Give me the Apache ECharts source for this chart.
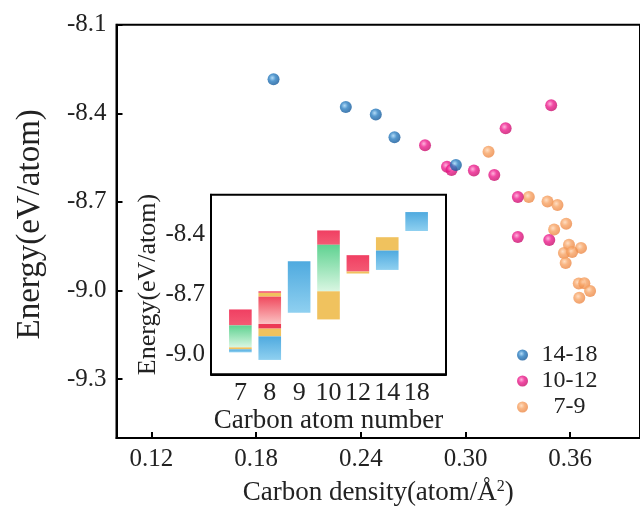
<!DOCTYPE html>
<html>
<head>
<meta charset="utf-8">
<script src="https://cdn.jsdelivr.net/npm/echarts@6/dist/echarts.min.js"></script>
<style>html,body{margin:0;padding:0;background:#fff}#c{width:640px;height:516px}</style>
</head>
<body>
<div id="c"></div>
<script>
// ---- main scatter data [carbon density, energy] ----
const pts14_18 = [[0.1900,-8.285],[0.2314,-8.379],[0.2486,-8.404],[0.2593,-8.481],[0.2945,-8.575]];
const pts10_12 = [[0.3491,-8.373],[0.3230,-8.451],[0.2768,-8.508],[0.2894,-8.581],[0.2920,-8.592],[0.3048,-8.594],[0.3165,-8.609],[0.3300,-8.684],[0.3300,-8.819],[0.3480,-8.829]];
const pts7_9 = [[0.3132,-8.530],[0.3363,-8.684],[0.3470,-8.699],[0.3527,-8.711],[0.3577,-8.774],[0.3508,-8.794],[0.3593,-8.845],[0.3662,-8.856],[0.3564,-8.873],[0.3611,-8.870],[0.3574,-8.907],[0.3649,-8.977],[0.3681,-8.976],[0.3714,-9.002],[0.3652,-9.025]];
const seriesNames = ['14-18','10-12','7-9'];
const mainXTicks = [0.12,0.18,0.24,0.30,0.36];
const mainYTicks = [-9.3,-9.0,-8.7,-8.4,-8.1];

// ---- inset data: carbon atom number, energy ranges ----
const insetCats = ['7','8','9','10','12','14','18'];
const insetYTicks = [-9.0,-8.7,-8.4];
// [category index (1-based), low energy, high energy, colour key]
const insetSegments = [
  [1,-8.855,-8.775,'red'],[1,-8.965,-8.855,'green'],[1,-8.975,-8.965,'yellow'],[1,-8.990,-8.975,'blue'],
  [2,-8.692,-8.684,'red'],[2,-8.711,-8.692,'yellow'],[2,-8.848,-8.711,'redFade'],[2,-8.871,-8.848,'darkRed'],[2,-8.910,-8.871,'yellow'],[2,-9.028,-8.910,'blue'],
  [3,-8.792,-8.533,'blue'],
  [4,-8.451,-8.379,'red'],[4,-8.684,-8.451,'green'],[4,-8.825,-8.684,'yellow'],
  [5,-8.585,-8.503,'red'],[5,-8.595,-8.585,'yellow'],
  [6,-8.480,-8.413,'yellow'],[6,-8.577,-8.480,'blue'],
  [7,-8.382,-8.287,'blue']
];

const FONT = 'Liberation Serif';
function lin(a,b){return {type:'linear',x:0,y:0,x2:0,y2:1,colorStops:[{offset:0,color:a},{offset:1,color:b}]};}
const segFill = {
  red: lin('#f03f62','#f45a74'),
  redFade: lin('#f04a5e','#fbc3c3'),
  darkRed: '#ec3b55',
  green: lin('#5fd291','#d9f6e2'),
  yellow: '#f0c25e',
  blue: lin('#4faadf','#8fd0f0')
};
function sphere(c0,c1,c2){return {type:'radial',x:0.4,y:0.38,r:0.62,colorStops:[{offset:0,color:c0},{offset:0.45,color:c1},{offset:1,color:c2}]};}
const colors = {
  '14-18': sphere('#9fd2f5','#2b7fc2','#14599a'),
  '10-12': sphere('#ff9fd2','#ee1d8e','#c80e6c'),
  '7-9': sphere('#ffd6b4','#f7a364','#ec8846')
};

const chart = echarts.init(document.getElementById('c'), null, {renderer:'canvas'});
const axisTextBase = {fontFamily:FONT, color:'#222'};
const blackLine = {lineStyle:{color:'#000',width:2}};

const option = {
  animation:false,
  backgroundColor:'#fff',
  grid:[
    {left:116.5, top:24.7, width:532.5, height:413.3, show:true, borderColor:'#000', borderWidth:2, backgroundColor:'transparent', z:0},
    {left:211, top:194.7, width:235, height:179.6, show:true, borderColor:'#000', borderWidth:2, backgroundColor:'#fff', z:5}
  ],
  xAxis:[
    {type:'value', gridIndex:0, min:0.10, max:0.40, splitLine:{show:false},
     axisLine:blackLine,
     axisTick:{inside:true, length:6, lineStyle:{color:'#000',width:2}, customValues:mainXTicks},
     axisLabel:Object.assign({customValues:mainXTicks, fontSize:25, margin:9, formatter:v=>v.toFixed(2)}, axisTextBase),
     name:'Carbon density(atom/Å{sup|2})', nameLocation:'middle', nameGap:41,
     nameTextStyle:Object.assign({fontSize:27, rich:{sup:{fontSize:16, fontFamily:FONT, color:'#222', verticalAlign:'top', padding:[0,0,12,0]}}}, axisTextBase)
    },
    {type:'value', gridIndex:1, min:0, max:8, splitLine:{show:false},
     axisLine:blackLine,
     axisTick:{show:false},
     axisLabel:Object.assign({customValues:[1,2,3,4,5,6,7], fontSize:26, margin:6, formatter:v=>insetCats[Math.round(v)-1]}, axisTextBase),
     name:'Carbon atom number', nameLocation:'middle', nameGap:32,
     nameTextStyle:Object.assign({fontSize:27}, axisTextBase)
    }
  ],
  yAxis:[
    {type:'value', gridIndex:0, min:-9.5, max:-8.1, splitLine:{show:false},
     axisLine:blackLine,
     axisTick:{inside:true, length:6, lineStyle:{color:'#000',width:2}, customValues:mainYTicks},
     axisLabel:Object.assign({customValues:mainYTicks, fontSize:25, margin:10, formatter:v=>v.toFixed(1)}, axisTextBase),
     name:'Energy(eV/atom)', nameLocation:'middle', nameGap:70,
     nameTextStyle:Object.assign({fontSize:33, padding:[0,0,0,14]}, axisTextBase)
    },
    {type:'value', gridIndex:1, min:-9.1, max:-8.2, splitLine:{show:false},
     axisLine:blackLine,
     axisTick:{inside:true, length:5, lineStyle:{color:'#000',width:2}, customValues:insetYTicks},
     axisLabel:Object.assign({customValues:insetYTicks, fontSize:25, margin:6, formatter:v=>v.toFixed(1)}, axisTextBase),
     name:'Energy(eV/atom)', nameLocation:'middle', nameGap:47,
     nameTextStyle:Object.assign({fontSize:26}, axisTextBase)
    }
  ],
  legend:{
    data:seriesNames, orient:'vertical', left:512, top:338, itemWidth:11, itemHeight:11, itemGap:2, icon:'circle',
    formatter:n=>'{a|'+n+'}',
    textStyle:{rich:{a:{width:73, align:'center', fontSize:24, fontFamily:FONT, color:'#222', lineHeight:24}}}
  },
  series:[
    {name:'7-9', type:'scatter', xAxisIndex:0, yAxisIndex:0, data:pts7_9, symbolSize:12, itemStyle:{color:colors['7-9']}},
    {name:'10-12', type:'scatter', xAxisIndex:0, yAxisIndex:0, data:pts10_12, symbolSize:12, itemStyle:{color:colors['10-12']}},
    {name:'14-18', type:'scatter', xAxisIndex:0, yAxisIndex:0, data:pts14_18, symbolSize:12, itemStyle:{color:colors['14-18']}},
    {type:'custom', xAxisIndex:1, yAxisIndex:1, z:6,
     data:insetSegments.map(s=>[s[0],s[1],s[2]]),
     renderItem:function(params, api){
       const i = params.dataIndex;
       const x = api.value(0);
       const p1 = api.coord([x, api.value(2)]);
       const p0 = api.coord([x, api.value(1)]);
       const w = api.size([0.77,0])[0];
       return {type:'rect', shape:{x:p1[0]-w/2, y:p1[1], width:w, height:p0[1]-p1[1]},
               style:{fill:segFill[insetSegments[i][3]]}};
     },
     encode:{x:0, y:[1,2]}
    }
  ]
};
chart.setOption(option);
</script>
</body>
</html>
